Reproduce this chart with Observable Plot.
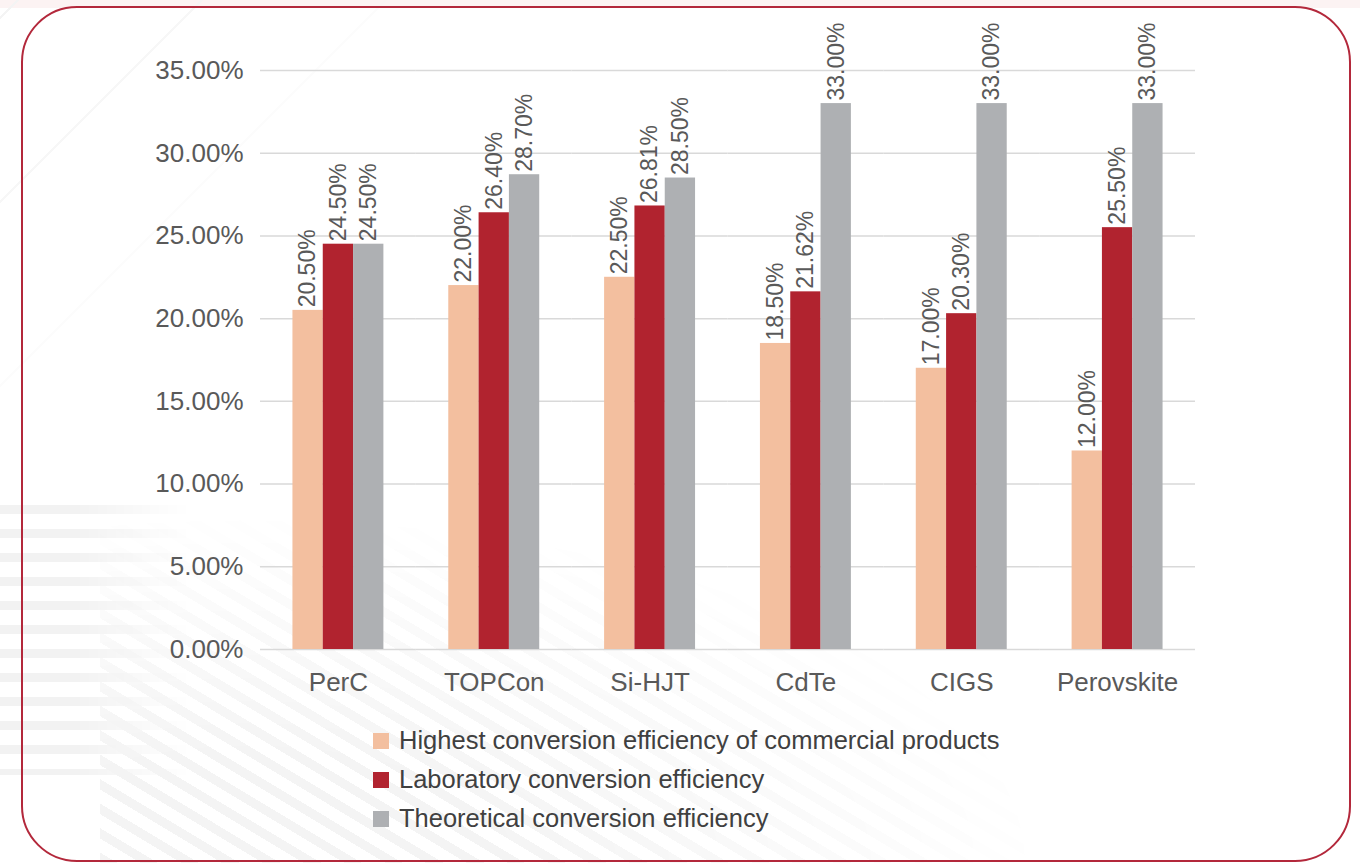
<!DOCTYPE html>
<html>
<head>
<meta charset="utf-8">
<script src="https://cdn.jsdelivr.net/npm/d3@7"></script>
<script src="https://cdn.jsdelivr.net/npm/@observablehq/plot@0.6"></script>
<style>
  html, body { margin: 0; padding: 0; background: #ffffff; }
  body { width: 1360px; height: 863px; position: relative; overflow: hidden;
         font-family: "Liberation Sans", Arial, sans-serif; }
  #topband { position: absolute; left: 0; top: 0; width: 1360px; height: 8px; background: #fcf3f3; }
  #stripesH { position: absolute; left: 0; top: 505px; width: 190px; height: 270px;
    background: repeating-linear-gradient(180deg, #f2f2f2 0 9px, rgba(255,255,255,0) 9px 24px);
    -webkit-mask-image: linear-gradient(to right, #000 40%, transparent 100%);
    mask-image: linear-gradient(to right, #000 40%, transparent 100%); }
  #stripesD { position: absolute; left: 100px; top: 470px; width: 1000px; height: 393px;
    background: repeating-linear-gradient(31deg, #f4f4f4 0 9px, rgba(255,255,255,0) 9px 21px);
    -webkit-mask-image: radial-gradient(ellipse 80% 90% at 15% 100%, #000 30%, transparent 100%);
    mask-image: radial-gradient(ellipse 80% 90% at 15% 100%, #000 30%, transparent 100%); }
  #stripesTL { position: absolute; left: 0; top: 0; width: 420px; height: 420px;
    background: repeating-linear-gradient(-45deg, rgba(255,255,255,0) 0 60px, #f4f4f4 60px 62px, rgba(255,255,255,0) 62px 130px);
    -webkit-mask-image: linear-gradient(to bottom right, #000 10%, transparent 60%);
    mask-image: linear-gradient(to bottom right, #000 10%, transparent 60%); }
  #frame { position: absolute; left: 21px; top: 6px; width: 1330px; height: 856px;
    box-sizing: border-box; border: 2.5px solid #b3283b; border-radius: 56px; }
  #chart { position: absolute; left: 0; top: 0; }
  #legend { position: absolute; left: 373px; top: 721px; color: #404040; font-size: 25.5px; }
  .row { display: flex; align-items: center; height: 39px; }
  .sw { width: 16px; height: 16px; margin-right: 10px; flex: none; }
</style>
</head>
<body>
<div id="topband"></div>
<div id="stripesTL"></div>
<div id="stripesH"></div>
<div id="stripesD"></div>
<div id="frame"></div>
<div id="chart"></div>
<div id="legend"></div>
<script>
const categories = ["PerC", "TOPCon", "Si-HJT", "CdTe", "CIGS", "Perovskite"];
const seriesNames = [
  "Highest conversion efficiency of commercial products",
  "Laboratory conversion efficiency",
  "Theoretical conversion efficiency"
];
const commercial = [20.5, 22.0, 22.5, 18.5, 17.0, 12.0];
const laboratory = [24.5, 26.4, 26.81, 21.62, 20.3, 25.5];
const theoretical = [24.5, 28.7, 28.5, 33.0, 33.0, 33.0];
const yTicks = [0, 5, 10, 15, 20, 25, 30, 35];
const colors = ["#f3bf9f", "#b1232f", "#aeb0b3"];

const seriesValues = [commercial, laboratory, theoretical];
const data = [];
categories.forEach((c, i) => {
  seriesNames.forEach((s, j) => {
    data.push({tech: c, series: s, value: seriesValues[j][i]});
  });
});
const pct = d => d.toFixed(2) + "%";

const chart = Plot.plot({
  width: 1360,
  height: 700,
  marginLeft: 260,
  marginRight: 165,
  marginTop: 70,
  marginBottom: 51,
  style: {fontFamily: '"Liberation Sans", Arial, sans-serif', color: "#595959", background: "transparent"},
  fx: {domain: categories, padding: 0, round: false},
  x: {domain: seriesNames, paddingInner: 0, paddingOuter: 1.07, round: false, axis: null},
  y: {domain: [0, 35]},
  color: {domain: seriesNames, range: colors},
  marks: [
    Plot.ruleY(yTicks, {stroke: "#d9d9d9", strokeWidth: 1.5}),
    Plot.barY(data, {fx: "tech", x: "series", y: "value", fill: "series"}),
    Plot.text(data, {fx: "tech", x: "series", y: "value", text: d => pct(d.value),
      rotate: -90, textAnchor: "start", dy: -3, fontSize: 23, fill: "#595959"}),
    Plot.axisY(yTicks, {tickSize: 0, tickPadding: 17, fontSize: 26, tickFormat: pct, label: null, fill: "#595959"}),
    Plot.axisFx({anchor: "bottom", tickSize: 0, tickPadding: 23, fontSize: 26, label: null, fill: "#595959"})
  ]
});
document.getElementById("chart").appendChild(chart);

const legend = document.getElementById("legend");
seriesNames.forEach((s, j) => {
  const row = document.createElement("div");
  row.className = "row";
  const sw = document.createElement("span");
  sw.className = "sw";
  sw.style.background = colors[j];
  const tx = document.createElement("span");
  tx.textContent = s;
  row.appendChild(sw);
  row.appendChild(tx);
  legend.appendChild(row);
});
</script>
</body>
</html>
